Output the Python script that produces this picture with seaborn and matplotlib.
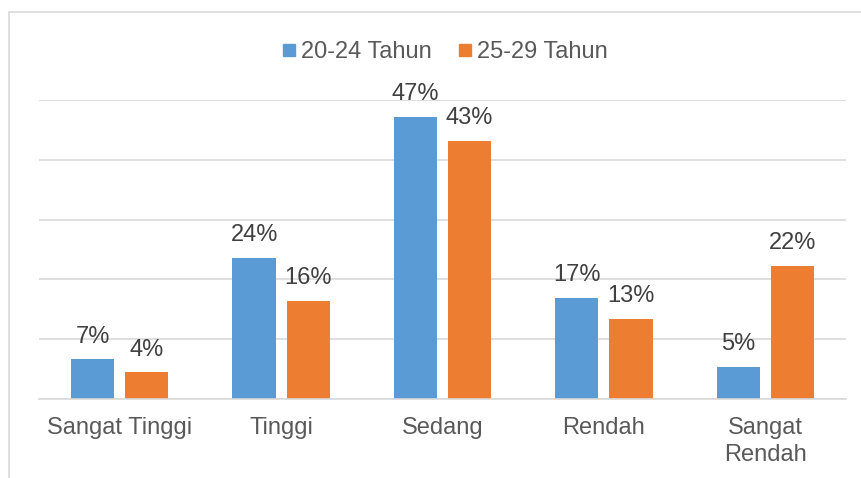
import matplotlib.pyplot as plt
import pandas as pd
import seaborn as sns
from matplotlib.lines import Line2D
from matplotlib.patches import Rectangle

categories = ["Sangat Tinggi", "Tinggi", "Sedang", "Rendah", "Sangat\nRendah"]
groups = ["20-24 Tahun", "25-29 Tahun"]
pct_20_24 = [6.6, 23.6, 47.2, 16.9, 5.3]
pct_25_29 = [4.4, 16.4, 43.2, 13.4, 22.3]

colors = ["#5B9BD5", "#ED7D31"]
grid_color = "#D9D9D9"

df = pd.DataFrame(
    {
        "kategori": categories * 2,
        "usia": [groups[0]] * len(categories) + [groups[1]] * len(categories),
        "persen": pct_20_24 + pct_25_29,
    }
)

sns.set_theme(style="white")
plt.rcParams["font.family"] = ["Liberation Sans", "DejaVu Sans"]

fig = plt.figure(figsize=(8.62, 4.78), dpi=100)
ax = fig.add_axes([39 / 862, 1 - 398.7 / 478, 807 / 862, 298.4 / 478])

sns.barplot(
    data=df,
    x="kategori",
    y="persen",
    hue="usia",
    order=categories,
    hue_order=groups,
    palette=colors,
    width=0.67,
    gap=0.2,
    saturation=1,
    linewidth=0,
    ax=ax,
    legend=False,
)

for container in ax.containers:
    ax.bar_label(
        container, fmt="%.0f%%", padding=8.5, fontsize=17, color="#404040"
    )

ax.set_ylim(0, 50)
ax.set_yticks(range(0, 51, 10))
ax.set_yticklabels([])
ax.yaxis.grid(True, color=grid_color, linewidth=1.2)
ax.set_axisbelow(True)
ax.tick_params(axis="y", length=0)
ax.tick_params(axis="x", length=0, pad=13, labelsize=17, labelcolor="#595959")
for label in ax.get_xticklabels():
    label.set_linespacing(1.3)
ax.set_xlabel("")
ax.set_ylabel("")
for side in ["top", "left", "right"]:
    ax.spines[side].set_visible(False)
ax.spines["bottom"].set_color(grid_color)
ax.spines["bottom"].set_linewidth(1.2)

handles = [
    Line2D([], [], marker="s", linestyle="", markersize=9, color=c) for c in colors
]
ax.legend(
    handles,
    groups,
    loc="center",
    bbox_to_anchor=(0.503, 1.161),
    ncol=2,
    frameon=False,
    fontsize=17,
    labelcolor="#595959",
    handlelength=0.6,
    handletextpad=0.2,
    columnspacing=1.1,
)

# outer chart border
fig.patches.append(
    Rectangle(
        (9 / 862, -0.1),
        1.0,
        1.1 - 12 / 478,
        transform=fig.transFigure,
        fill=False,
        edgecolor=grid_color,
        linewidth=1.2,
    )
)

fig.savefig("out.png", dpi=100)
